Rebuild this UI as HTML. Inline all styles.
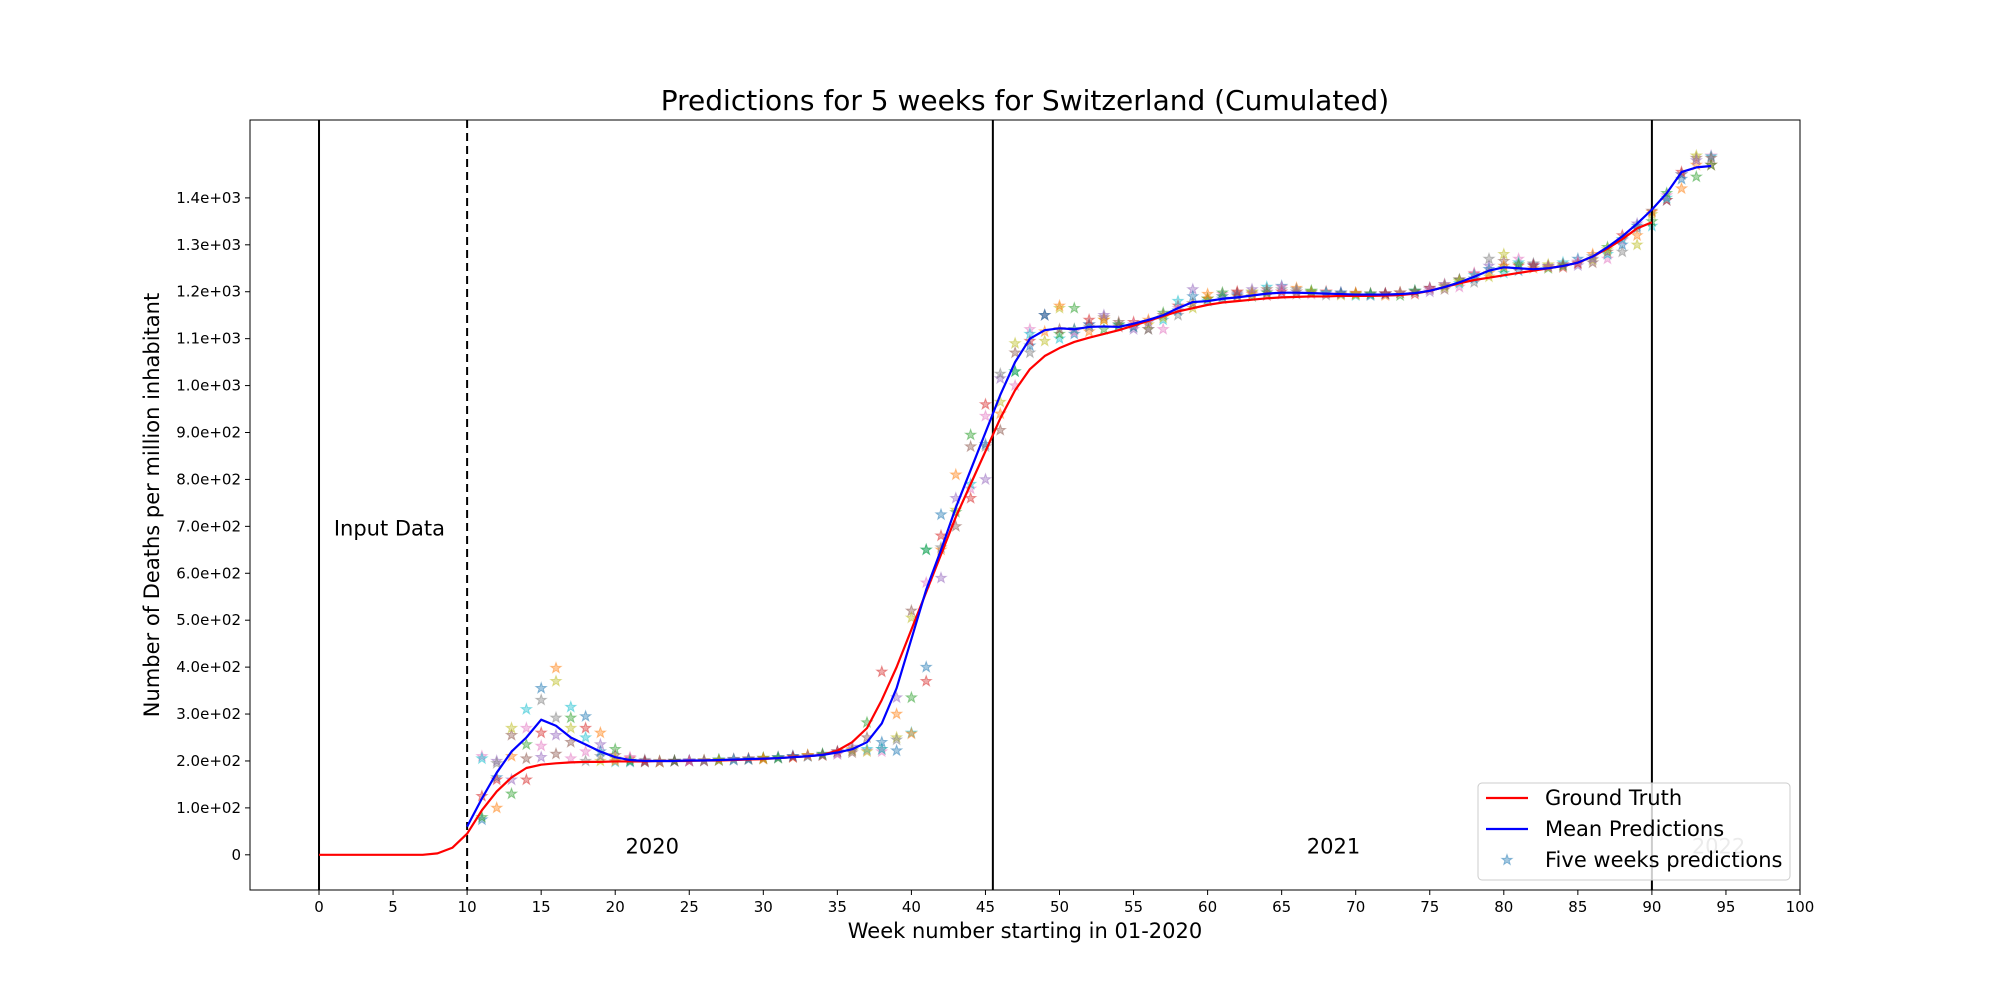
<!DOCTYPE html>
<html><head><meta charset="utf-8"><style>
html,body{margin:0;padding:0;background:#fff;}
svg{display:block;font-family:"DejaVu Sans","Liberation Sans",sans-serif;}
</style></head><body>
<svg id="chart" width="2000" height="1000" viewBox="0 0 2000 1000" xmlns="http://www.w3.org/2000/svg"></svg>
<script>
const xTicks=[0,5,10,15,20,25,30,35,40,45,50,55,60,65,70,75,80,85,90,95,100];
const yTicks=[0,100,200,300,400,500,600,700,800,900,1000,1100,1200,1300,1400];
const yTickLabels=["0","1.0e+02","2.0e+02","3.0e+02","4.0e+02","5.0e+02","6.0e+02","7.0e+02","8.0e+02","9.0e+02","1.0e+03","1.1e+03","1.2e+03","1.3e+03","1.4e+03"];
const truthWeeks=[0,1,2,3,4,5,6,7,8,9,10,11,12,13,14,15,16,17,18,19,20,21,22,23,24,25,26,27,28,29,30,31,32,33,34,35,36,37,38,39,40,41,42,43,44,45,46,47,48,49,50,51,52,53,54,55,56,57,58,59,60,61,62,63,64,65,66,67,68,69,70,71,72,73,74,75,76,77,78,79,80,81,82,83,84,85,86,87,88,89,90];
const truthValues=[0,0,0,0,0,0,0,0,3,15,45,95,135,165,185,192,195,197,198,198,199,199,199,200,200,200,201,201,202,203,204,206,208,210,213,222,240,270,330,400,480,560,640,720,790,860,930,990,1035,1063,1080,1093,1102,1110,1118,1128,1138,1148,1158,1165,1172,1177,1180,1183,1186,1188,1189,1190,1190,1191,1191,1191,1192,1193,1196,1202,1210,1218,1225,1230,1235,1240,1245,1250,1255,1262,1275,1292,1312,1335,1348];
const meanWeeks=[10,11,12,13,14,15,16,17,18,19,20,21,22,23,24,25,26,27,28,29,30,31,32,33,34,35,36,37,38,39,40,41,42,43,44,45,46,47,48,49,50,51,52,53,54,55,56,57,58,59,60,61,62,63,64,65,66,67,68,69,70,71,72,73,74,75,76,77,78,79,80,81,82,83,84,85,86,87,88,89,90,91,92,93,94];
const meanValues=[60,120,175,220,250,288,275,250,235,220,208,202,200,200,200,201,201,202,203,204,205,206,208,210,213,218,225,240,280,355,460,565,650,740,820,900,980,1050,1100,1118,1122,1120,1125,1126,1125,1132,1140,1150,1165,1178,1180,1185,1188,1192,1196,1198,1198,1197,1196,1195,1194,1194,1194,1195,1197,1202,1210,1220,1232,1245,1252,1250,1248,1250,1255,1262,1275,1295,1318,1345,1375,1410,1455,1465,1468];
const predWeeks=[11,12,13,14,15,16,17,18,19,20,21,22,23,24,25,26,27,28,29,30,31,32,33,34,35,36,37,38,39,40,41,42,43,44,45,46,47,48,49,50,51,52,53,54,55,56,57,58,59,60,61,62,63,64,65,66,67,68,69,70,71,72,73,74,75,76,77,78,79,80,81,82,83,84,85,86,87,88,89,90,91,92,93,94];
const pred1=[75,100,130,160,208,215,205,200,200,198,198,198,198,200,200,200,202,203,204,205,207,208,210,212,215,218,222,225,250,260,400,650,730,760,800,905,1000,1070,1095,1100,1110,1115,1120,1125,1120,1120,1120,1150,1165,1180,1185,1190,1190,1192,1195,1195,1195,1193,1193,1192,1192,1192,1192,1195,1200,1205,1210,1220,1232,1240,1245,1250,1250,1252,1256,1262,1270,1285,1300,1340,1395,1420,1445,1470];
const pred2=[125,200,255,270,330,370,315,295,260,225,205,200,198,199,200,201,203,204,205,206,208,210,212,214,218,222,225,240,300,335,370,590,700,780,870,965,1030,1085,1115,1110,1120,1130,1145,1130,1125,1130,1140,1160,1175,1185,1190,1195,1198,1200,1205,1200,1200,1198,1196,1195,1195,1196,1198,1200,1205,1210,1218,1228,1240,1250,1255,1258,1255,1258,1262,1268,1280,1300,1320,1350,1395,1450,1485,1490];
const pred3=[210,195,270,310,355,398,292,270,235,212,208,202,200,200,201,201,202,203,205,206,208,210,212,214,220,225,282,390,335,520,580,655,735,790,875,940,1030,1095,1150,1120,1115,1125,1140,1128,1125,1140,1155,1170,1205,1185,1195,1198,1200,1210,1212,1208,1202,1200,1198,1197,1196,1196,1198,1202,1208,1215,1225,1238,1255,1265,1270,1260,1258,1262,1270,1280,1295,1320,1345,1372,1405,1450,1490,1488];
const pred4=[205,165,210,235,260,255,240,220,210,205,200,198,198,200,200,200,201,202,204,206,208,210,212,215,220,230,250,220,245,505,650,725,810,895,960,1015,1070,1120,1150,1165,1120,1130,1140,1130,1135,1135,1150,1165,1175,1185,1190,1192,1195,1198,1200,1200,1198,1196,1195,1194,1194,1195,1198,1202,1208,1216,1226,1240,1270,1280,1262,1255,1252,1255,1260,1270,1285,1310,1335,1365,1400,1440,1470,1470];
const pred5=[80,160,160,205,232,292,270,250,220,200,200,199,199,200,200,201,202,202,203,204,206,208,210,212,214,222,220,225,222,258,650,680,760,870,935,1025,1090,1110,1150,1170,1165,1140,1150,1135,1130,1120,1145,1180,1190,1195,1198,1200,1205,1205,1210,1205,1200,1198,1198,1197,1196,1196,1198,1200,1205,1212,1222,1235,1248,1255,1258,1256,1254,1258,1264,1275,1290,1312,1340,1370,1410,1455,1480,1485];
const predSeries=[pred1,pred2,pred3,pred4,pred5];
const tab10=["#1f77b4","#ff7f0e","#2ca02c","#d62728","#9467bd","#8c564b","#e377c2","#7f7f7f","#bcbd22","#17becf"];

const L=250,R=1800,T=120,B=890;
const xMin=-4.66,xMax=100,yMin=-75,yMax=1566;
const X=v=>L+(v-xMin)/(xMax-xMin)*(R-L);
const Y=v=>B-(v-yMin)/(yMax-yMin)*(B-T);
const svg=document.getElementById('chart');
const NS="http://www.w3.org/2000/svg";
function el(tag,attrs,parent){const e=document.createElementNS(NS,tag);for(const k in attrs)e.setAttribute(k,attrs[k]);(parent||svg).appendChild(e);return e;}
function starPath(cx,cy,r){let d="";for(let i=0;i<10;i++){const a=-Math.PI/2+i*Math.PI/5;const rr=i%2?r*0.4:r;d+=(i?"L":"M")+(cx+rr*Math.cos(a)).toFixed(1)+","+(cy+rr*Math.sin(a)).toFixed(1);}return d+"Z";}

let t=el('text',{x:1025,y:110,'font-size':28,'text-anchor':'middle',fill:'#000'});t.textContent="Predictions for 5 weeks for Switzerland (Cumulated)";



const clip=el('clipPath',{id:'pc'});el('rect',{x:L,y:T,width:R-L,height:B-T},clip);
const plot=el('g',{'clip-path':'url(#pc)'});



predSeries.forEach((s,si)=>{
  const g=el('g',{},plot);
  
  
  s.forEach((v,i)=>{
    const c=tab10[(i+si*3)%10];
    const p=el('path',{d:starPath(X(predWeeks[i]),Y(v),5.5),fill:c,'fill-opacity':0.4,stroke:c,'stroke-opacity':0.45,'stroke-width':1},g);
    
    
  });
});

[[0,''],[10,'8,5'],[45.5,''],[90,'']].forEach(([w,d])=>{
  const ln=el('line',{x1:X(w),x2:X(w),y1:T,y2:B,stroke:'#000','stroke-width':2,'stroke-dasharray':d},plot);
  
  
});

function poly(xs,ys,color,name){
  const p=el('polyline',{points:xs.map((w,i)=>X(w)+","+Y(ys[i])).join(" "),fill:'none',stroke:color,'stroke-width':2.2,'stroke-linejoin':'round'},plot);
  
  
}
poly(truthWeeks,truthValues,'#ff0000','ground-truth-line');
poly(meanWeeks,meanValues,'#0000ff','mean-predictions-line');

[["Input Data",1,680,'#000','input-data-label'],["2020",22.5,3,'#000','year-2020-label'],["2021",68.5,3,'#000','year-2021-label'],["2022",94.5,3,'#999','year-2022-label']].forEach(([s,x,y,c,n])=>{
  const tx=el('text',{x:X(x),y:Y(y),'font-size':21,fill:c,'text-anchor':x===1?'start':'middle'},plot);tx.textContent=s;
  
  
});

const fr=el('rect',{x:L,y:T,width:R-L,height:B-T,fill:'none',stroke:'#000','stroke-width':1});



xTicks.forEach(v=>{
  el('line',{x1:X(v),x2:X(v),y1:B,y2:B+5,stroke:'#000','stroke-width':1});
  const tx=el('text',{x:X(v),y:B+22,'font-size':15,'text-anchor':'middle'});tx.textContent=v;
  
  
});
yTicks.forEach((v,i)=>{
  el('line',{x1:L-5,x2:L,y1:Y(v),y2:Y(v),stroke:'#000','stroke-width':1});
  const tx=el('text',{x:L-9,y:Y(v)+5,'font-size':15,'text-anchor':'end'});tx.textContent=yTickLabels[i];
  
  
});
let xl=el('text',{x:1025,y:938,'font-size':21,'text-anchor':'middle'});xl.textContent="Week number starting in 01-2020";


let yl=el('text',{x:0,y:0,'font-size':21,'text-anchor':'middle',transform:'translate(159,505) rotate(-90)'});yl.textContent="Number of Deaths per million inhabitant";



const lg=el('g',{});


el('rect',{x:1478,y:783,width:312,height:97,rx:4,fill:'#fff','fill-opacity':0.8,stroke:'#ccc','stroke-width':1},lg);
[["Ground Truth",'#ff0000','line'],["Mean Predictions",'#0000ff','line'],["Five weeks predictions",'#1f77b4','star']].forEach(([s,c,k],i)=>{
  const y=798+i*31;
  if(k==='line')el('line',{x1:1486,x2:1528,y1:y,y2:y,stroke:c,'stroke-width':2.2},lg);
  else el('path',{d:starPath(1507,y,5.5),fill:c,'fill-opacity':0.4,stroke:c,'stroke-opacity':0.45},lg);
  const tx=el('text',{x:1545,y:y+7,'font-size':21},lg);tx.textContent=s;
  
  
});
</script>
</body></html>
